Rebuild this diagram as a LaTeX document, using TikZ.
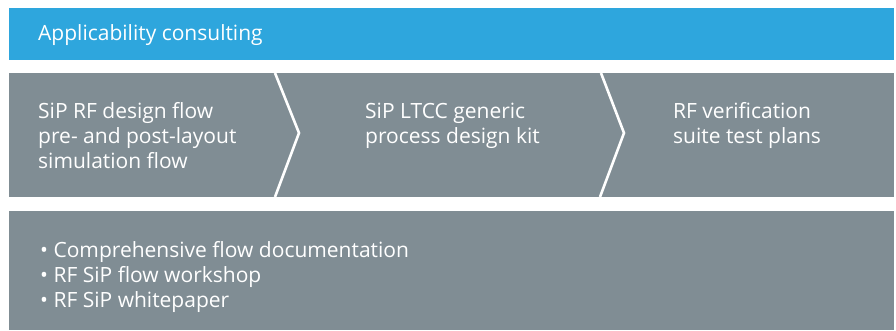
\documentclass[tikz,border=0pt]{standalone}
\usepackage{fontspec}
\setmainfont{Open Sans}
\usepackage{tikz}
\usetikzlibrary{positioning}

\definecolor{bandblue}{RGB}{46,166,221}
\definecolor{bandgray}{RGB}{128,141,148}

\tikzset{
    band/.style={fill=#1,draw=none,inner sep=0pt,anchor=north west,minimum width=885pt},
    txt/.style={text=white,font=\fontsize{21}{25}\selectfont,align=left,inner sep=0pt,anchor=base west},
    sep/.style={draw=white,line width=2.6pt}
}

\begin{document}
\begin{tikzpicture}[x=1pt,y=-1pt]
    \useasboundingbox (0,0) rectangle (896,330);

    \node[band=bandblue,minimum height=52pt] (top) at (9,8) {};
    \node[band=bandgray,minimum height=124pt] (flow) at (9,73) {};
    \node[band=bandgray,minimum height=119pt] (docs) at (9,211) {};

    % chevrons between the three steps
    \coordinate (s1a) at (275,73);
    \coordinate (s1b) at (299,133);
    \coordinate (s1c) at (275,197);
    \coordinate (s2a) at (601,73);
    \coordinate (s2b) at (624,133);
    \coordinate (s2c) at (600,197);
    \draw[sep] (s1a) -- (s1b) -- (s1c);
    \draw[sep] (s2a) -- (s2b) -- (s2c);

    % base anchor sits on the last line of each block
    \node[txt] (consult) at (38,40) {Applicability consulting};

    \node[txt] (design) at (38,168) {SiP RF design flow\\pre- and post-layout\\simulation flow};
    \node[txt] (kit) at (365,143) {SiP LTCC generic\\process design kit};
    \node[txt] (verif) at (673,143) {RF verification\\suite test plans};

    \node[txt] (list) at (40,307) {\textbullet\ Comprehensive flow documentation\\\textbullet\ RF SiP flow workshop\\\textbullet\ RF SiP whitepaper};
\end{tikzpicture}
\end{document}
